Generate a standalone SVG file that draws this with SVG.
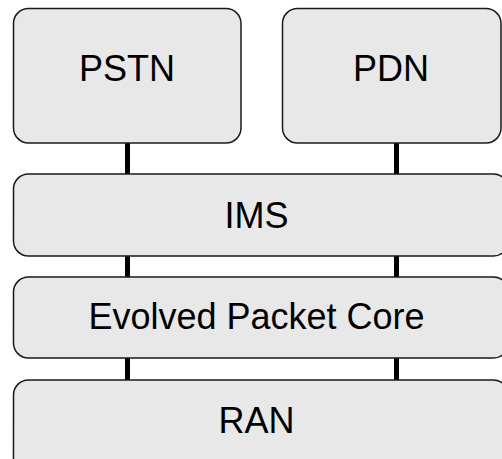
<svg xmlns="http://www.w3.org/2000/svg" width="502" height="459" viewBox="0 0 502 459">
<style>
.box{fill:#e8e8e8;stroke:#1a1a1a;stroke-width:1.5}
.lbl{font-family:"Liberation Sans",Arial,sans-serif;font-size:36px;fill:#000;text-anchor:middle}
.conn{stroke:#000;stroke-width:5;stroke-linecap:butt}
</style>
<rect width="502" height="459" fill="#fff"/>
<g id="connectors">
<line class="conn" x1="127.5" y1="143" x2="127.5" y2="174"/>
<line class="conn" x1="396.5" y1="143" x2="396.5" y2="174"/>
<line class="conn" x1="127.5" y1="256" x2="127.5" y2="277"/>
<line class="conn" x1="396.5" y1="256" x2="396.5" y2="277"/>
<line class="conn" x1="127.5" y1="358" x2="127.5" y2="380"/>
<line class="conn" x1="396.5" y1="358" x2="396.5" y2="380"/>
</g>
<g id="pstn">
<rect class="box" x="13.5" y="8.5" width="227.5" height="134.5" rx="15"/>
<text class="lbl" x="127" y="81">PSTN</text>
</g>
<g id="pdn">
<rect class="box" x="282.5" y="8.5" width="218.5" height="134.5" rx="15"/>
<text class="lbl" x="391" y="81">PDN</text>
</g>
<g id="ims">
<rect class="box" x="13.5" y="174" width="495" height="82" rx="15"/>
<text class="lbl" x="256.5" y="228">IMS</text>
</g>
<g id="epc">
<rect class="box" x="13.5" y="277" width="495" height="81" rx="15"/>
<text class="lbl" x="256.5" y="329">Evolved Packet Core</text>
</g>
<g id="ran">
<rect class="box" x="13.5" y="380" width="495" height="95" rx="15"/>
<text class="lbl" x="256.5" y="433">RAN</text>
</g>
</svg>
